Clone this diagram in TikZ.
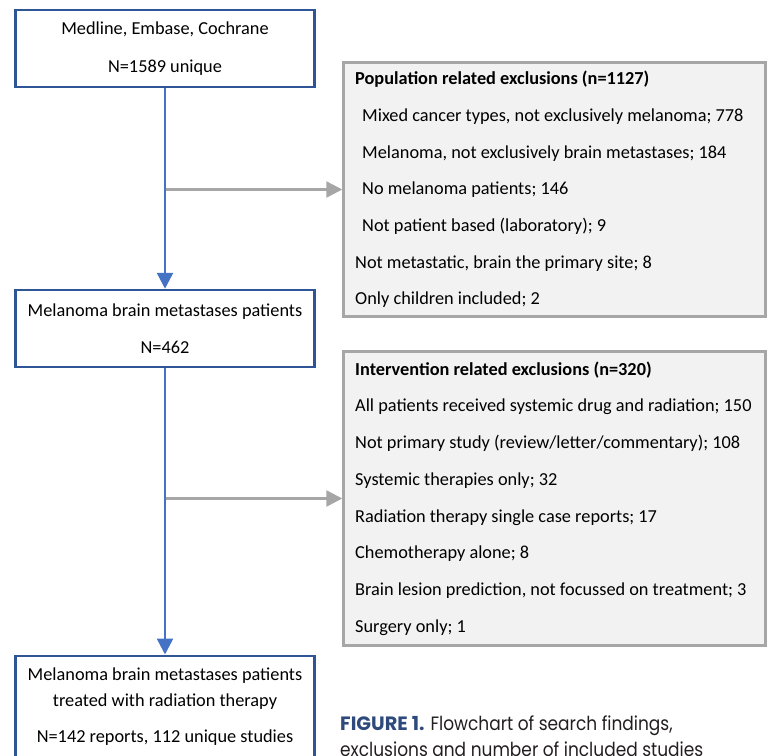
\documentclass[tikz,border=0pt]{standalone}
\usepackage{fontspec}
\setmainfont{Carlito}
\newfontfamily\capfont[FakeStretch=0.88]{Poppins}
\newfontfamily\capbold{Poppins}
\usetikzlibrary{arrows.meta}
\definecolor{boxblue}{HTML}{2F5597}
\definecolor{arrblue}{HTML}{4472C4}
\definecolor{exgray}{HTML}{A6A6A6}
\definecolor{exfill}{HTML}{F2F2F2}
\definecolor{capblue}{HTML}{2E4A7D}
\definecolor{captext}{HTML}{231F20}

\begin{document}
\begin{tikzpicture}[x=1pt,y=-1pt]
        \tikzstyle{stage}=[draw=boxblue,line width=2.5pt,fill=white,minimum width=299pt,minimum height=77pt,align=center,inner sep=0pt,font=\fontsize{18.3}{19}\selectfont]
        \tikzstyle{exclbox}=[draw=exgray,line width=2.5pt,fill=exfill,minimum width=422pt]
        \tikzstyle{excltext}=[anchor=west,align=left,inner sep=0pt,font=\fontsize{18.3}{36.7}\selectfont]
        \tikzstyle{flow}=[draw=arrblue,line width=2.5pt,-{Triangle[length=16pt,width=16pt]}]
        \tikzstyle{side}=[draw=exgray,line width=2.5pt,-{Triangle[length=16pt,width=16pt]}]

        \path[use as bounding box,clip] (0,0) rectangle (776,755);
        \fill[white] (0,0) rectangle (776,755);

        \node[stage](src) at (165,48.5){Medline, Embase, Cochrane\\[19pt]N=1589 unique};
        \node[stage](mbm) at (165,328.5){Melanoma brain metastases patients\\[18pt]N=462};
        \node[stage,minimum height=0pt,anchor=north,inner ysep=12pt,
              font=\fontsize{18.3}{26}\selectfont](rt) at (165,654.5)
              {Melanoma brain metastases patients\\treated with radiation therapy\\[10pt]N=142 reports, 112 unique studies\\[20pt]\mbox{}};

        \node[exclbox,minimum height=254pt](popbox) at (554.5,189.5){};
        \node[excltext](pop) at (355,189.5)
              {\textbf{Population related exclusions (n=1127)}\\
               \hspace*{7pt}Mixed cancer types, not exclusively melanoma; 778\\
               \hspace*{7pt}Melanoma, not exclusively brain metastases; 184\\
               \hspace*{7pt}No melanoma patients; 146\\
               \hspace*{7pt}Not patient based (laboratory); 9\\
               Not metastatic, brain the primary site; 8\\
               Only children included; 2};
        \node[exclbox,minimum height=294pt](intbox) at (554.5,498.5){};
        \node[excltext](int) at (355,498.5)
              {\textbf{Intervention related exclusions (n=320)}\\
               All patients received systemic drug and radiation; 150\\
               Not primary study (review/letter/commentary); 108\\
               Systemic therapies only; 32\\
               Radiation therapy single case reports; 17\\
               Chemotherapy alone; 8\\
               Brain lesion prediction, not focussed on treatment; 3\\
               Surgery only; 1};

        \coordinate(b1) at (src.south |- popbox.west);
        \coordinate(b2) at (mbm.south |- intbox.west);
        \draw[side](b1) -- (popbox.west);
        \draw[side](b2) -- (intbox.west);
        \draw[flow](src) -- (mbm);
        \draw[flow](mbm) -- (rt);

        \node(cap)[anchor=base west,align=left,text=captext,inner sep=0pt,
              font=\capfont\fontsize{19.3}{26}\selectfont] at (340,756)
              {{\capbold\bfseries\color{capblue}FIGURE 1.} Flowchart of search findings,\\exclusions and number of included studies};
\end{tikzpicture}
\end{document}
